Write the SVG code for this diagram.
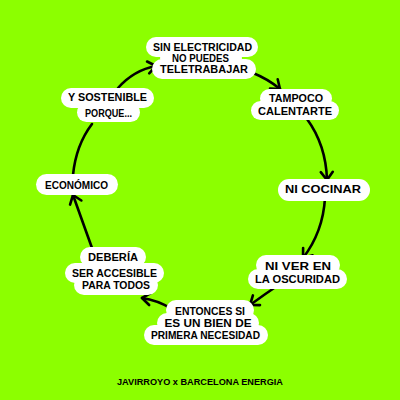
<svg xmlns="http://www.w3.org/2000/svg" width="400" height="400" viewBox="0 0 400 400">
<style>
.bg{fill:#8cff00}
.blob rect{fill:#ffffff}
text{font-family:"Liberation Sans",Arial,sans-serif;font-weight:bold;font-size:11px;fill:#000;text-anchor:middle}
.foot{font-size:9px}
.conn path{fill:none;stroke:#000;stroke-width:2.6;stroke-linecap:round}
</style>
<defs>
<marker id="ah" markerUnits="userSpaceOnUse" markerWidth="20" markerHeight="20" refX="10" refY="10" orient="auto" viewBox="0 0 20 20">
<path d="M2,4 L10,10 L2,16" fill="none" stroke="#000" stroke-width="2.6" stroke-linecap="round" stroke-linejoin="round"/>
</marker>
</defs>
<rect class="bg" x="0" y="0" width="400" height="400"/>
<g class="conn" id="connectors">
<path d="M118,88 Q134,70 156,66" marker-end="url(#ah)"/>
<path d="M253,73 Q268,79 280,89" marker-end="url(#ah)"/>
<path d="M307,119 Q326,145 327,180" marker-end="url(#ah)"/>
<path d="M325,198 Q323,232 303,258" marker-end="url(#ah)"/>
<path d="M280,284 Q265,294 250,305" marker-end="url(#ah)"/>
<path d="M172,309 Q157,300 142,298" marker-end="url(#ah)"/>
<path d="M92,248 Q82,220 73,195" marker-end="url(#ah)"/>
<path d="M73,175 Q76,145 92,124"/>
</g>
<g id="n1" class="blob">
<rect x="146" y="37" width="112" height="20" rx="10"/>
<rect x="160" y="48" width="82" height="20" rx="10"/>
<rect x="152" y="59" width="104" height="20" rx="10"/>
<text x="202.5" y="51" textLength="99" lengthAdjust="spacingAndGlyphs">SIN ELECTRICIDAD</text>
<text x="200.5" y="62" textLength="57" lengthAdjust="spacingAndGlyphs">NO PUEDES</text>
<text x="204" y="73" textLength="88" lengthAdjust="spacingAndGlyphs">TELETRABAJAR</text>
</g>
<g id="n2" class="blob">
<rect x="260" y="89" width="72" height="19" rx="9.5"/>
<rect x="251" y="101" width="88" height="19" rx="9.5"/>
<text x="296" y="102" textLength="54" lengthAdjust="spacingAndGlyphs">TAMPOCO</text>
<text x="295" y="115" textLength="74" lengthAdjust="spacingAndGlyphs">CALENTARTE</text>
</g>
<g id="n3" class="blob">
<rect x="278" y="179" width="92" height="22" rx="11"/>
<text x="323" y="193" textLength="76" lengthAdjust="spacingAndGlyphs">NI COCINAR</text>
</g>
<g id="n4" class="blob">
<rect x="256" y="255" width="84" height="20" rx="10"/>
<rect x="248" y="269" width="99" height="20" rx="10"/>
<text x="298" y="270" textLength="66" lengthAdjust="spacingAndGlyphs">NI VER EN</text>
<text x="297.5" y="283" textLength="85" lengthAdjust="spacingAndGlyphs">LA OSCURIDAD</text>
</g>
<g id="n5" class="blob">
<rect x="166" y="300" width="88" height="20" rx="10"/>
<rect x="157" y="313" width="102" height="20" rx="10"/>
<rect x="144" y="325" width="124" height="20" rx="10"/>
<text x="210" y="315" textLength="70" lengthAdjust="spacingAndGlyphs">ENTONCES SI</text>
<text x="208" y="327" textLength="87" lengthAdjust="spacingAndGlyphs">ES UN BIEN DE</text>
<text x="205.5" y="339" textLength="109" lengthAdjust="spacingAndGlyphs">PRIMERA NECESIDAD</text>
</g>
<g id="n6" class="blob">
<rect x="80" y="247" width="66" height="20" rx="10"/>
<rect x="65" y="263" width="99" height="20" rx="10"/>
<rect x="74" y="275" width="84" height="20" rx="10"/>
<text x="113" y="261" textLength="50" lengthAdjust="spacingAndGlyphs">DEBERÍA</text>
<text x="114.5" y="277" textLength="85" lengthAdjust="spacingAndGlyphs">SER ACCESIBLE</text>
<text x="116" y="289" textLength="68" lengthAdjust="spacingAndGlyphs">PARA TODOS</text>
</g>
<g id="n7" class="blob">
<rect x="36" y="174" width="82" height="21" rx="10.5"/>
<text x="76.5" y="189" textLength="63" lengthAdjust="spacingAndGlyphs">ECONÓMICO</text>
</g>
<g id="n8" class="blob">
<rect x="61" y="88" width="93" height="20" rx="10"/>
<rect x="77" y="103" width="63" height="19" rx="9.5"/>
<text x="107.5" y="101" textLength="79" lengthAdjust="spacingAndGlyphs">Y SOSTENIBLE</text>
<text x="108.5" y="117" textLength="47" lengthAdjust="spacingAndGlyphs">PORQUE...</text>
</g>
<text class="foot" x="200" y="384.5" textLength="166" lengthAdjust="spacingAndGlyphs">JAVIRROYO x BARCELONA ENERGIA</text>
</svg>
